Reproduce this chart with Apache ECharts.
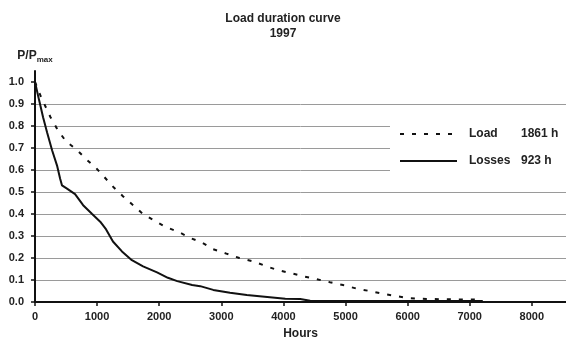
<!DOCTYPE html>
<html>
<head>
<meta charset="utf-8">
<script src="https://cdn.jsdelivr.net/npm/echarts@6/dist/echarts.min.js"></script>
<style>
  html, body { margin: 0; padding: 0; background: #fff; }
  #chart { width: 566px; height: 345px; }
</style>
</head>
<body>
<div id="chart"></div>
<script>
// values
const loadHours = [0, 100, 250, 370, 500, 680, 820, 980, 1110, 1270, 1420, 1580, 1740, 1920, 2110, 2300, 2510, 2690, 2870, 3080, 3290, 3510, 3720, 3910, 4120, 4320, 4530, 4750, 4960, 5190, 5390, 5600, 5830, 6000, 6300, 6700, 7170];
const loadValues = [1.0, 0.93, 0.84, 0.78, 0.73, 0.69, 0.65, 0.61, 0.57, 0.52, 0.48, 0.44, 0.40, 0.37, 0.34, 0.32, 0.29, 0.27, 0.24, 0.22, 0.20, 0.185, 0.163, 0.145, 0.131, 0.117, 0.104, 0.09, 0.077, 0.06, 0.05, 0.037, 0.027, 0.018, 0.014, 0.012, 0.011];

const lossHours = [0, 64, 130, 195, 275, 355, 405, 435, 515, 645, 775, 920, 1050, 1145, 1255, 1400, 1560, 1740, 1965, 2140, 2290, 2530, 2660, 2870, 3140, 3410, 3740, 4030, 4270, 4430, 5000, 6000, 7210];
const lossValues = [1.0, 0.92, 0.84, 0.77, 0.69, 0.62, 0.56, 0.53, 0.515, 0.49, 0.44, 0.40, 0.365, 0.33, 0.275, 0.23, 0.19, 0.162, 0.135, 0.11, 0.095, 0.077, 0.072, 0.055, 0.042, 0.032, 0.023, 0.015, 0.014, 0.006, 0.005, 0.005, 0.005];

const seriesNames = ['Load', 'Losses'];
const utilisation = ['1861 h', '923 h'];

const xTicks = [0, 1000, 2000, 3000, 4000, 5000, 6000, 7000, 8000];
const yTicks = [0, 0.1, 0.2, 0.3, 0.4, 0.5, 0.6, 0.7, 0.8, 0.9, 1.0];

const font = '"Liberation Sans", Arial, sans-serif';

function pairs(xs, ys) {
  return xs.map((x, i) => [x, ys[i]]);
}

const chart = echarts.init(document.getElementById('chart'));

chart.setOption({
  animation: false,
  backgroundColor: '#fff',
  title: {
    text: 'Load duration curve\n1997',
    left: 'center',
    top: 11,
    padding: 0,
    textStyle: { fontFamily: font, fontSize: 12, fontWeight: 'bold', color: '#222', lineHeight: 15 }
  },
  legend: {
    orient: 'vertical',
    left: 390,
    top: 115,
    padding: [13, 12, 12, 9],
    backgroundColor: '#fff',
    itemWidth: 57,
    itemHeight: 14,
    itemGap: 15,
    data: seriesNames,
    itemStyle: { opacity: 0 },
    formatter: (name) => '{n|' + name + '}{v|' + utilisation[seriesNames.indexOf(name)] + '}',
    textStyle: {
      fontFamily: font,
      fontSize: 12,
      fontWeight: 'bold',
      color: '#222',
      rich: {
        n: { fontFamily: font, fontSize: 12, fontWeight: 'bold', color: '#222', width: 52, padding: [0, 0, 0, 7] },
        v: { fontFamily: font, fontSize: 12, fontWeight: 'bold', color: '#222' }
      }
    }
  },
  grid: { left: 35, right: 0, top: 71, bottom: 41 },
  xAxis: {
    type: 'value',
    min: 0,
    max: 8550,
    interval: 1000,
    name: 'Hours',
    nameLocation: 'middle',
    nameGap: 26,
    nameTextStyle: { fontFamily: font, fontSize: 12, fontWeight: 'bold', color: '#222' },
    axisLine: { lineStyle: { color: '#111', width: 2 } },
    axisTick: { length: 4, customValues: xTicks, lineStyle: { color: '#111', width: 1.5 } },
    axisLabel: {
      customValues: xTicks,
      margin: 9,
      fontFamily: font,
      fontSize: 11,
      fontWeight: 'bold',
      color: '#222',
      formatter: (v) => String(v)
    },
    splitLine: { show: false }
  },
  yAxis: {
    type: 'value',
    min: 0,
    max: 1.05,
    interval: 0.1,
    name: '{a|P/P}{b|max}',
    nameLocation: 'end',
    nameGap: 7,
    nameTextStyle: {
      rich: {
        a: { fontFamily: font, fontSize: 12, fontWeight: 'bold', color: '#222' },
        b: { fontFamily: font, fontSize: 8, fontWeight: 'bold', color: '#222', padding: [9, 0, 0, 0] }
      }
    },
    axisLine: { show: true, lineStyle: { color: '#111', width: 2 } },
    axisTick: { show: true, length: 4, customValues: yTicks, lineStyle: { color: '#111', width: 1.5 } },
    axisLabel: {
      customValues: yTicks,
      margin: 11,
      fontFamily: font,
      fontSize: 11,
      fontWeight: 'bold',
      color: '#222',
      formatter: (v) => v.toFixed(1)
    },
    splitLine: { show: true, showMinLine: false, showMaxLine: false, lineStyle: { color: '#9a9a9a', width: 1 } }
  },
  series: [
    {
      name: seriesNames[0],
      type: 'line',
      data: pairs(loadHours, loadValues),
      symbol: 'none',
      lineStyle: { color: '#111', width: 2, type: [4, 8] },
      itemStyle: { color: '#111' }
    },
    {
      name: seriesNames[1],
      type: 'line',
      data: pairs(lossHours, lossValues),
      symbol: 'none',
      lineStyle: { color: '#111', width: 2 },
      itemStyle: { color: '#111' }
    }
  ]
});
</script>
</body>
</html>
